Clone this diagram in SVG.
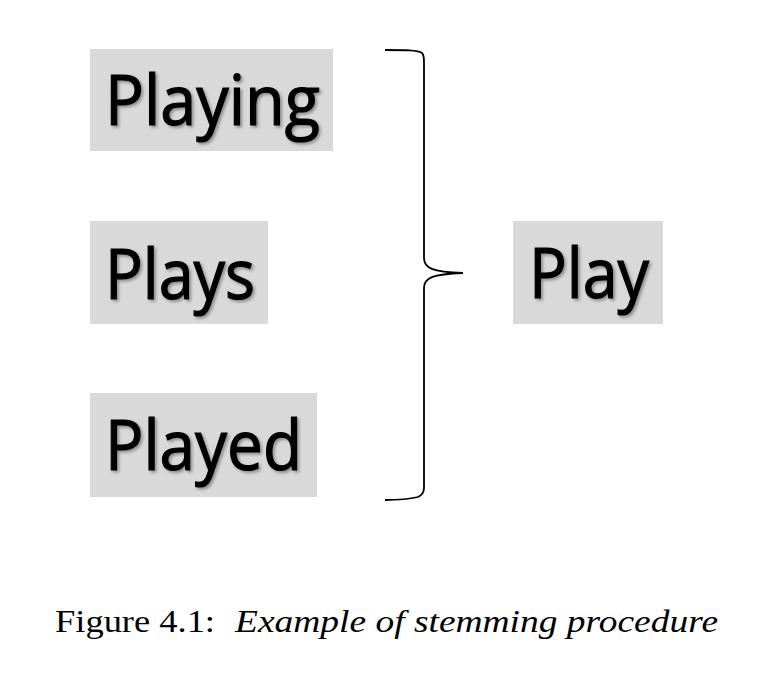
<svg xmlns="http://www.w3.org/2000/svg" width="777" height="673" viewBox="0 0 777 673">
<defs>
<style>
.box{fill:#d9d9d9}
.word{font-family:"Open Sans","Liberation Sans",sans-serif;font-size:70px;fill:#000;stroke:#000;stroke-width:1.2}
.cap{font-family:"Liberation Serif","Times New Roman",serif;font-size:32px;fill:#000}
.brace{fill:none;stroke:#000;stroke-width:1.8}
</style>
<filter id="sh" x="-10%" y="-10%" width="130%" height="130%">
<feDropShadow dx="2" dy="2" stdDeviation="1.5" flood-color="#000" flood-opacity="0.35"/>
</filter>
</defs>
<rect width="777" height="673" fill="#fff"/>
<g id="playing">
<rect class="box" x="90" y="49" width="243" height="102"/>
<text class="word" x="105" y="125" textLength="215" lengthAdjust="spacingAndGlyphs" filter="url(#sh)">Playing</text>
</g>
<g id="plays">
<rect class="box" x="90" y="221" width="178" height="103"/>
<text class="word" x="105" y="299" textLength="150" lengthAdjust="spacingAndGlyphs" filter="url(#sh)">Plays</text>
</g>
<g id="played">
<rect class="box" x="90" y="393" width="227" height="104"/>
<text class="word" x="105" y="470" textLength="197" lengthAdjust="spacingAndGlyphs" filter="url(#sh)">Played</text>
</g>
<g id="play">
<rect class="box" x="513" y="221" width="150" height="103"/>
<text class="word" x="529" y="298" textLength="120" lengthAdjust="spacingAndGlyphs" filter="url(#sh)">Play</text>
</g>
<g id="connectors">
<path class="brace" d="M385,50 C405,50 418,50 422,53 C424,55 424,58 424,62 L424,258 C424,268 432,272 463,273 C432,274 424,278 424,288 L424,488 C424,492 422,495 418,497 C410,499 400,500 385,500"/>
</g>
<g id="caption">
<text class="cap" x="55" y="632" textLength="160" lengthAdjust="spacingAndGlyphs">Figure 4.1:</text>
<text class="cap" x="235" y="632" font-style="italic" textLength="483" lengthAdjust="spacingAndGlyphs">Example of stemming procedure</text>
</g>
</svg>
